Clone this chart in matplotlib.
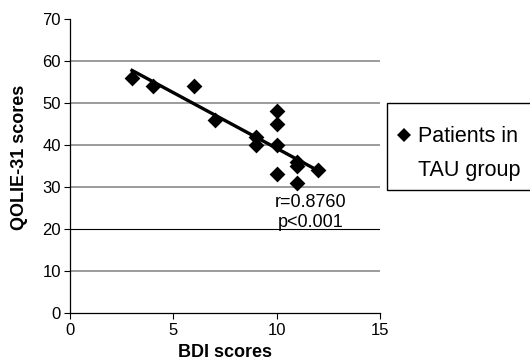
import numpy as np
import matplotlib
matplotlib.use("Agg")
import matplotlib.pyplot as plt
from matplotlib.patches import Rectangle
from matplotlib.lines import Line2D

plt.rcParams['font.family'] = ['Liberation Sans', 'DejaVu Sans']

bdi = [3, 4, 6, 7, 9, 9, 10, 10, 10, 10, 11, 11, 11, 12]
qolie = [56, 54, 54, 46, 42, 40, 48, 45, 40, 33, 36, 35, 31, 34]
xticks = [0, 5, 10, 15]
yticks = [0, 10, 20, 30, 40, 50, 60, 70]

W, H = 530, 362
fig = plt.figure(figsize=(W / 100, H / 100), dpi=100)
ax = fig.add_axes([70 / W, 1 - 313 / H, 310 / W, 294 / H])

for y in yticks[1:-1]:
    col = 'black' if y == 20 else '#808080'
    lw = 0.8 if y == 20 else 1.1
    ax.axhline(y, color=col, lw=lw, zorder=1)

ax.scatter(bdi, qolie, marker='D', s=65, color='black', zorder=3, linewidths=0)
coef = np.polyfit(bdi, qolie, 1)
xs = np.array([min(bdi), max(bdi)])
ax.plot(xs, np.polyval(coef, xs), color='black', lw=2.4, zorder=2)

ax.text(11.66, 25.2, 'r=0.8760', ha='center', va='baseline', fontsize=13)
ax.text(11.66, 20.5, 'p<0.001', ha='center', va='baseline', fontsize=13)

ax.set_xlim(0, 15)
ax.set_ylim(0, 70)
ax.set_xticks(xticks)
ax.set_yticks(yticks)
ax.tick_params(axis='y', direction='out', length=4.5, width=0.8, labelsize=12, pad=2)
ax.tick_params(axis='x', direction='out', length=4, width=0.8, labelsize=12, pad=3.5)
for s in ['top', 'right']:
    ax.spines[s].set_visible(False)
for s in ['left', 'bottom']:
    ax.spines[s].set_linewidth(0.9)
ax.set_xlabel('BDI scores', fontsize=13, fontweight='bold', labelpad=4)
ax.set_ylabel('QOLIE-31 scores', fontsize=13, fontweight='bold')
ax.yaxis.set_label_coords((28 - 70) / 310, 0.53)

# legend box
fig.add_artist(Rectangle((387 / W, 1 - 190 / H), 150 / W, 87 / H, transform=fig.transFigure,
                         facecolor='white', edgecolor='black', lw=1.0))
fig.add_artist(Line2D([404 / W], [1 - 135 / H], transform=fig.transFigure, marker='D',
                      markersize=7, color='black', markeredgewidth=0))
fig.text(418 / W, 1 - 142 / H, 'Patients in', fontsize=15.5, va='baseline', ha='left')
fig.text(418 / W, 1 - 176 / H, 'TAU group', fontsize=15.5, va='baseline', ha='left')

fig.savefig('out.png', dpi=100)
